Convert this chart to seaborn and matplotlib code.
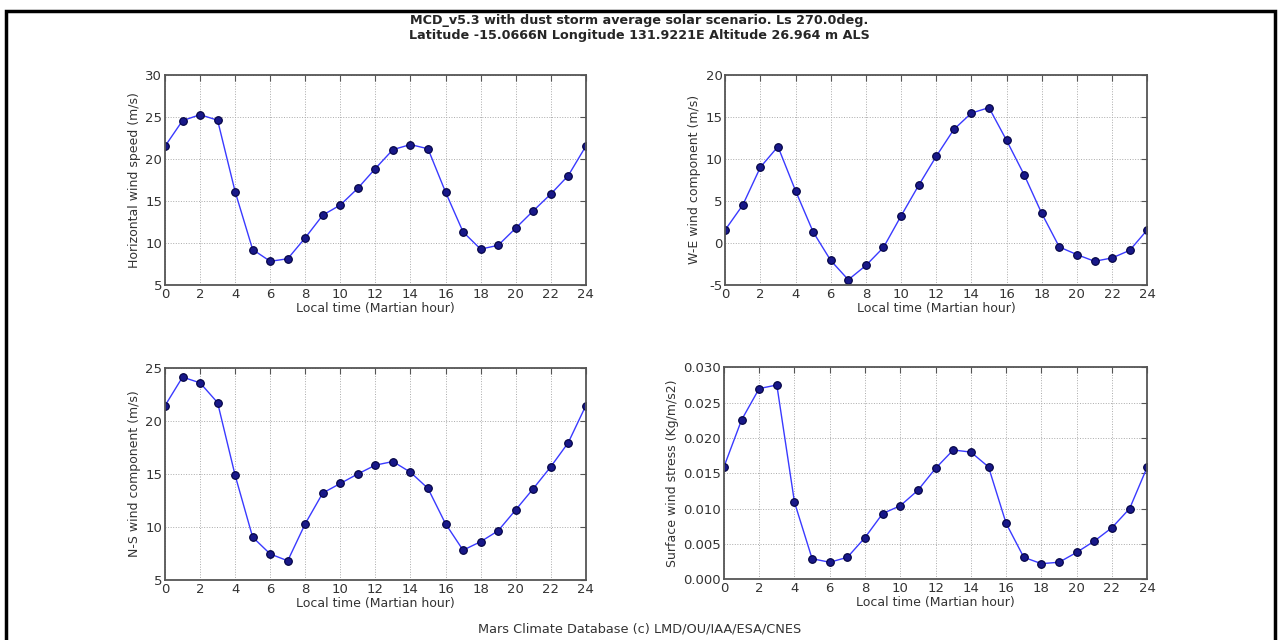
import matplotlib
matplotlib.use("Agg")
import matplotlib.pyplot as plt
import matplotlib.ticker as mticker
from matplotlib.patches import Rectangle
import pandas as pd
import seaborn as sns

hours = list(range(25))

horiz_speed = [21.5, 24.55, 25.26, 24.6, 16.1, 9.2, 7.8, 8.1, 10.6, 13.3, 14.5, 16.5, 18.85,
               21.1, 21.7, 21.2, 16.05, 11.3, 9.25, 9.7, 11.74, 13.8, 15.8, 18.0, 21.5]
we_wind = [1.54, 4.5, 9.0, 11.46, 6.2, 1.3, -2.1, -4.4, -2.7, -0.55, 3.2, 6.84, 10.3,
           13.5, 15.45, 16.1, 12.2, 8.1, 3.5, -0.5, -1.4, -2.2, -1.8, -0.9, 1.54]
ns_wind = [21.44, 24.14, 23.6, 21.73, 14.87, 9.03, 7.44, 6.8, 10.3, 13.2, 14.1, 15.0, 15.83,
           16.17, 15.16, 13.63, 10.3, 7.8, 8.6, 9.63, 11.6, 13.6, 15.67, 17.95, 21.44]
wind_stress = [0.0159, 0.02255, 0.0270, 0.0275, 0.0109, 0.0029, 0.0024, 0.0031, 0.0059,
               0.0093, 0.0104, 0.0126, 0.0157, 0.0183, 0.0180, 0.0159, 0.0079, 0.0031,
               0.0022, 0.0024, 0.0038, 0.0054, 0.0073, 0.0100, 0.0159]

panels = [
    (horiz_speed, "Horizontal wind speed (m/s)", (5, 30), 5, "%d"),
    (we_wind, "W-E wind component (m/s)", (-5, 20), 5, "%d"),
    (ns_wind, "N-S wind component (m/s)", (5, 25), 5, "%d"),
    (wind_stress, "Surface wind stress (Kg/m/s2)", (0, 0.030), 0.005, "%.3f"),
]

sns.set_style("white")
plt.rcParams['font.family'] = ['DejaVu Sans']
plt.rcParams['font.size'] = 9

fig = plt.figure(figsize=(12.79, 6.40), dpi=100)

positions = [
    [0.129, 0.555, 0.329, 0.328],
    [0.567, 0.555, 0.330, 0.328],
    [0.129, 0.094, 0.329, 0.331],
    [0.566, 0.095, 0.331, 0.331],
]

for (vals, ylab, ylim, step, fmt), pos in zip(panels, positions):
    ax = fig.add_axes(pos)
    df = pd.DataFrame({'hour': hours, 'val': vals})
    sns.lineplot(data=df, x='hour', y='val', ax=ax, color='#3a3aff', linewidth=1,
                 marker='o', markersize=5.5, markerfacecolor='#181888',
                 markeredgecolor='#000040', markeredgewidth=0.8)
    ax.set_xlim(0, 24)
    ax.set_ylim(*ylim)
    ax.xaxis.set_major_locator(mticker.MultipleLocator(2))
    ax.yaxis.set_major_locator(mticker.MultipleLocator(step))
    ax.yaxis.set_major_formatter(mticker.FormatStrFormatter(fmt))
    ax.set_xlabel("Local time (Martian hour)", fontsize=9, labelpad=1, color='#333333')
    ax.set_ylabel(ylab, fontsize=9, labelpad=3, color='#333333')
    ax.grid(True, linestyle=':', color='#aaaaaa', linewidth=0.7)
    ax.tick_params(direction='in', top=True, right=True, length=4, width=0.8,
                   labelsize=9.5, labelcolor='#333333', color='#555555', pad=2)
    for s in ax.spines.values():
        s.set_color('#555555')
        s.set_linewidth(1.3)

fig.text(0.5, 0.968, "MCD_v5.3 with dust storm average solar scenario. Ls 270.0deg.",
         ha='center', va='center', fontsize=9.2, fontweight='bold')
fig.text(0.5, 0.944, "Latitude -15.0666N Longitude 131.9221E Altitude 26.964 m ALS",
         ha='center', va='center', fontsize=9.2, fontweight='bold')
fig.text(0.5, 0.017, "Mars Climate Database (c) LMD/OU/IAA/ESA/CNES",
         ha='center', va='center', fontsize=9.3, color='#333333')

fig.patches.append(Rectangle((6 / 1279, -0.1), 1269 / 1279, 1.1 - 11 / 640,
                             transform=fig.transFigure, fill=False,
                             edgecolor='black', linewidth=2.5))

fig.savefig("out.png", dpi=100)
